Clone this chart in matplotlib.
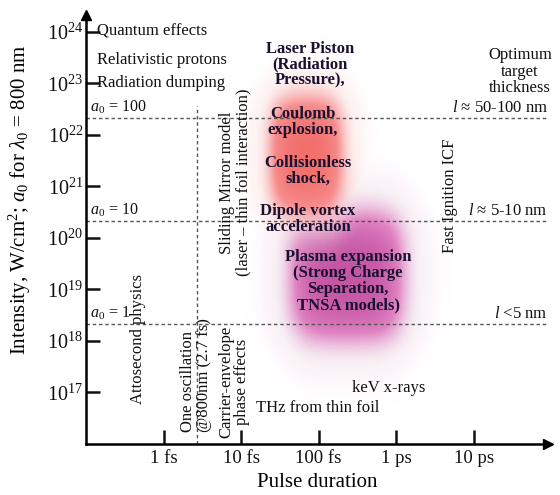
import numpy as np
import matplotlib

matplotlib.use("Agg")
import matplotlib.pyplot as plt
from matplotlib.colors import LinearSegmentedColormap
from matplotlib.ticker import NullLocator

plt.rcParams["font.family"] = ["Liberation Serif", "DejaVu Serif"]
plt.rcParams["mathtext.fontset"] = "custom"
plt.rcParams["mathtext.rm"] = "Liberation Serif"
plt.rcParams["mathtext.it"] = "Liberation Serif:italic"
plt.rcParams["mathtext.bf"] = "Liberation Serif:bold"

# pulse duration in fs, intensity in W/cm^2
x_ticks = [1, 10, 100, 1000, 10000]
x_tick_labels = ["1 fs", "10 fs", "100 fs", "1 ps", "10 ps"]
y_ticks = [1e17, 1e18, 1e19, 1e20, 1e21, 1e22, 1e23, 1e24]

a0_values = ["1", "10", "100"]
a0_intensity = [2.1e18, 2.1e20, 2.1e22]
thickness_labels = ["$l$ <5 nm", "$l$ \u2248 5-10 nm", "$l$ \u2248 50-100 nm"]

one_cycle_fs = 2.7
one_cycle_top = 3.7e22

# shaded regimes (pulse range, intensity range)
red_fs = [27, 180]
red_int = [4e20, 4e22]
violet_fs = [50, 1100]
violet_int = [1.4e18, 2.4e20]

TEXT = "#111111"
BOLD = "#1a1030"
DOT = "#555555"


def soft_box(lo, hi, u, w):
    return 0.5 * (np.tanh((u - np.log10(lo)) / w) - np.tanh((u - np.log10(hi)) / w))


fig = plt.figure(figsize=(5.6, 4.95), dpi=100)
ax = fig.add_axes([86 / 560, 51 / 495, 462 / 560, 429 / 495])
ax.set_xscale("log")
ax.set_yscale("log")
ax.set_xlim(0.1, 10 ** 4.96)
ax.set_ylim(1e16, 10 ** 24.33)

# fuzzy coloured regions
gx = np.logspace(-1, 5, 300)
gy = np.logspace(16, 24.4, 300)
LX, LY = np.meshgrid(np.log10(gx), np.log10(gy))
violet = soft_box(*violet_fs, LX, 0.25) * soft_box(*violet_int, LY, 0.55)
red = soft_box(*red_fs, LX, 0.2) * soft_box(*red_int, LY, 0.5)
cm_violet = LinearSegmentedColormap.from_list(
    "v", [(1, 1, 1, 0), (0.88, 0.50, 0.76, 0.5), (0.76, 0.32, 0.63, 0.85)])
cm_red = LinearSegmentedColormap.from_list(
    "r", [(1, 1, 1, 0), (0.97, 0.55, 0.55, 0.6), (0.94, 0.42, 0.40, 0.9)])
ax.pcolormesh(gx, gy, violet, cmap=cm_violet, vmin=0, vmax=1, shading="gouraud", zorder=0, rasterized=True)
ax.pcolormesh(gx, gy, red, cmap=cm_red, vmin=0, vmax=1, shading="gouraud", zorder=0, rasterized=True)

# a0 levels and target thickness
for a0, inten, lab in zip(a0_values, a0_intensity, thickness_labels):
    ax.axhline(inten, color=DOT, lw=1, ls=(0, (2.5, 2)), zorder=1)
    ax.text(0.112, inten * 1.1, f"$a_0$ = {a0}", fontsize=11.5, color=TEXT, va="bottom", ha="left")
    ax.text(10 ** 4.96, inten * 1.1, lab, fontsize=12, color=TEXT, va="bottom", ha="right")
ax.plot([one_cycle_fs, one_cycle_fs], [1e16, one_cycle_top], color=DOT, lw=1, ls=(0, (2.5, 2)), zorder=1)

# axes
for side in ["top", "right"]:
    ax.spines[side].set_visible(False)
for side in ["left", "bottom"]:
    ax.spines[side].set_linewidth(1.8)
ax.plot(1, 0, ">", color="k", ms=7, transform=ax.transAxes, clip_on=False)
ax.plot(0, 1, "^", color="k", ms=7, transform=ax.transAxes, clip_on=False)

ax.set_xticks(x_ticks, x_tick_labels)
ax.set_yticks(y_ticks)
ax.xaxis.set_minor_locator(NullLocator())
ax.yaxis.set_minor_locator(NullLocator())
ax.tick_params(direction="in", length=10, width=1.8, colors=TEXT)
ax.tick_params(axis="y", pad=2, labelsize=14.5)
ax.tick_params(axis="x", pad=4, labelsize=13.5)

ax.set_ylabel("Intensity, W/cm$^2$; $a_0$ for $\\lambda_0$ = 800 nm", fontsize=15, va="center")
ax.yaxis.set_label_coords(-0.143, 0.569)
ax.set_xlabel("Pulse duration", fontsize=15, va="center")
ax.xaxis.set_label_coords(0.5, -0.089)

# plain annotations
plain = dict(fontsize=12, color=TEXT)
ax.text(0.14, 1e24, "Quantum effects", va="center", ha="left", **plain)
ax.text(0.14, 2.8e23, "Relativistic protons", va="center", ha="left", **plain)
ax.text(0.14, 1e23, "Radiation dumping", va="center", ha="left", **plain)
ax.text(39800, 1.7e23, "Optimum\ntarget\nthickness", va="center", ha="center", linespacing=1.05, **plain)
ax.text(8.4, 1.2e21, "Sliding Mirror model\n(laser \u2013 thin foil interaction)", rotation=90,
        va="center", ha="center", multialignment="center", linespacing=1.0, **plain)
ax.text(0.47, 1.07e18, "Attosecond physics", rotation=90, va="center", ha="center", **plain)
ax.text(2.6, 1.7e16, "One oscillation\n@800nm (2.7 fs)", rotation=90, va="bottom", ha="center",
        multialignment="left", linespacing=1.0, **plain)
ax.text(8.1, 1.6e17, "Carrier-envelope\nphase effects", rotation=90, va="center", ha="center",
        multialignment="center", linespacing=1.0, **plain)
ax.text(15.6, 4.9e16, "THz from thin foil", va="center", ha="left", **plain)
ax.text(270, 1.2e17, "keV x-rays", va="center", ha="left", **plain)
ax.text(5000, 6.6e20, "Fast Ignition ICF", rotation=90, va="center", ha="center", **plain)

# mechanisms
bold = dict(fontsize=12, color=BOLD, fontweight="bold", ha="center", va="center", linespacing=1.0)
ax.text(78, 2.3e23, "Laser Piston\n(Radiation\nPressure),", **bold)
ax.text(63, 1.8e22, "Coulomb\nexplosion,", **bold)
ax.text(73, 2.0e21, "Collisionless\nshock,", **bold)
ax.text(73, 2.3e20, "Dipole vortex\nacceleration", **bold)
ax.text(240, 1.43e19, "Plasma expansion\n(Strong Charge\nSeparation,\nTNSA models)", **bold)

fig.savefig("out.png", dpi=100)
